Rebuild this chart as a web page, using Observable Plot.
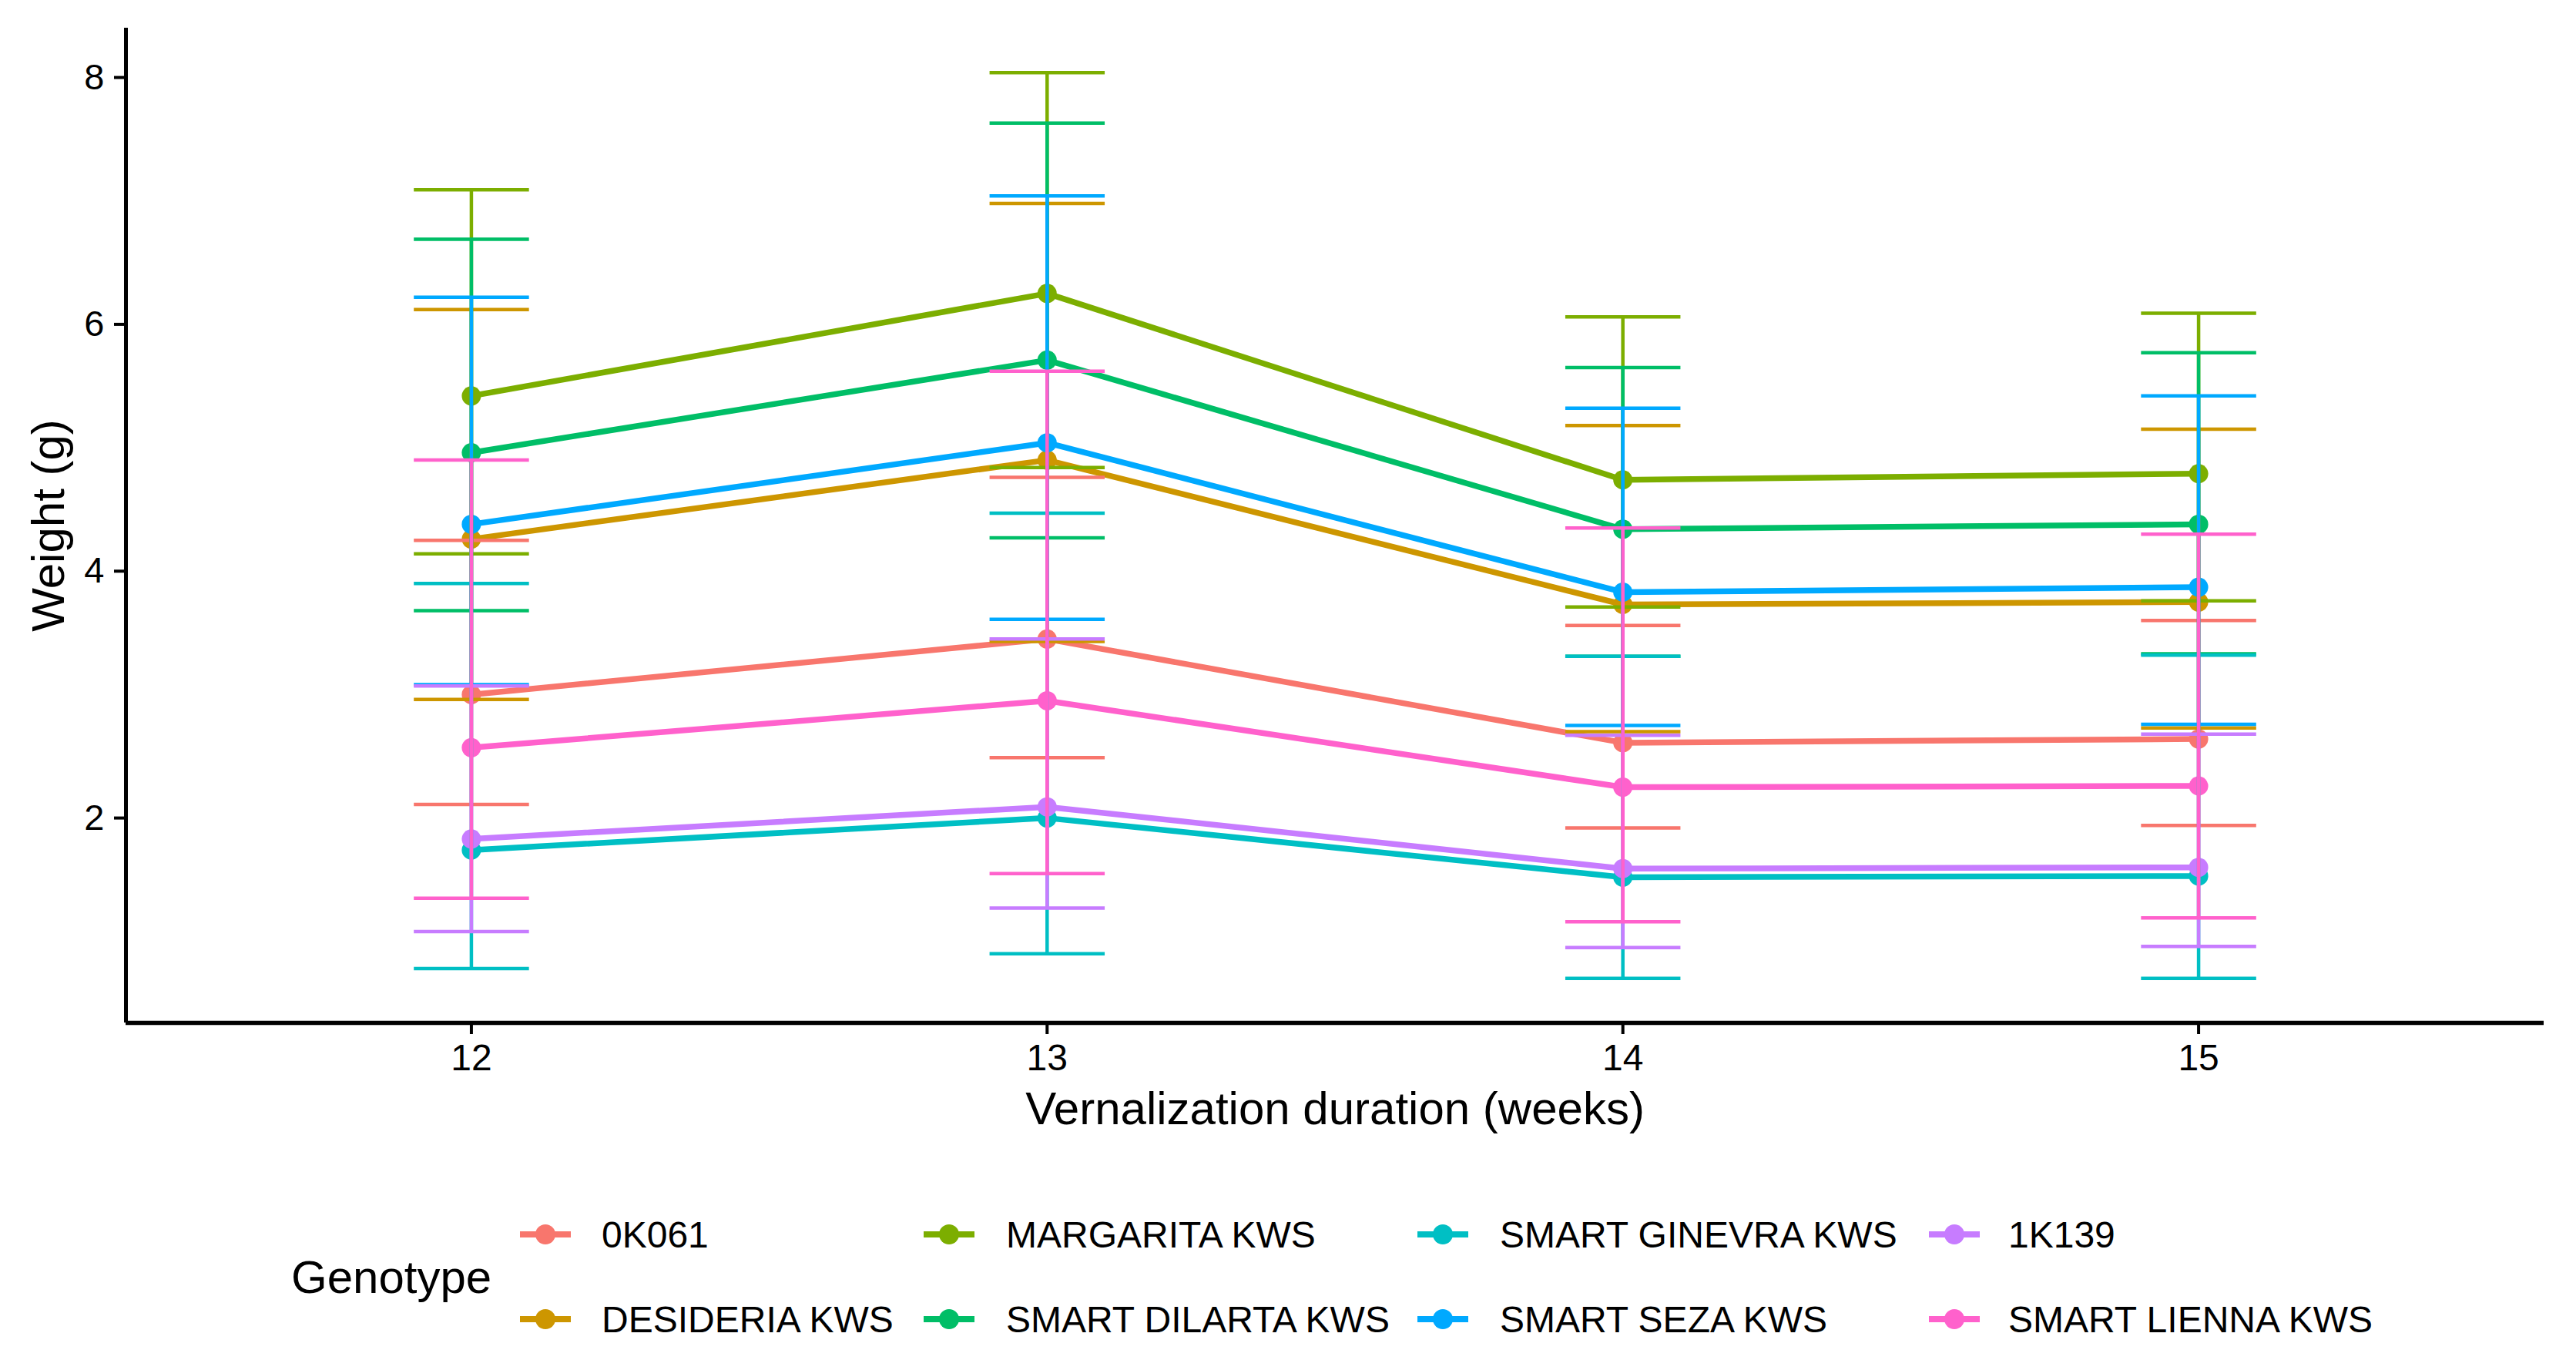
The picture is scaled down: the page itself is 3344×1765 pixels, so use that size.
<!DOCTYPE html>
<html>
<head>
<meta charset="utf-8">
<script src="https://cdn.jsdelivr.net/npm/d3@7"></script>
<script src="https://cdn.jsdelivr.net/npm/@observablehq/plot@0.6"></script>
<style>
  body { margin: 0; background: #fff; font-family: "Liberation Sans", Arial, sans-serif; }
  #wrap { width: 3344px; height: 1765px; position: relative; overflow: hidden; }
</style>
</head>
<body>
<div id="wrap"></div>
<script>
// ---- data ----
const genotypes = ["0K061", "DESIDERIA KWS", "MARGARITA KWS", "SMART DILARTA KWS",
                   "SMART GINEVRA KWS", "SMART SEZA KWS", "1K139", "SMART LIENNA KWS"];
const colors = ["#F8766D", "#CD9600", "#7CAE00", "#00BE67", "#00BFC4", "#00A9FF", "#C77CFF", "#FF61CC"];
const weeks = [12, 13, 14, 15];
const yTicks = [2, 4, 6, 8];

// mean weight per genotype (rows follow genotypes), columns follow weeks
const meanWeight = [
  [3.00, 3.45, 2.61, 2.64],
  [4.26, 4.90, 3.73, 3.75],
  [5.42, 6.25, 4.74, 4.79],
  [4.96, 5.71, 4.34, 4.38],
  [1.74, 2.00, 1.52, 1.53],
  [4.38, 5.04, 3.83, 3.87],
  [1.83, 2.09, 1.59, 1.60],
  [2.57, 2.95, 2.25, 2.26]
];
const upperWeight = [
  [4.25, 4.76, 3.56, 3.60],
  [6.12, 6.98, 5.18, 5.15],
  [7.09, 8.04, 6.06, 6.09],
  [6.69, 7.63, 5.65, 5.77],
  [3.90, 4.47, 3.31, 3.32],
  [6.22, 7.04, 5.32, 5.42],
  [3.07, 3.45, 2.67, 2.68],
  [4.90, 5.62, 4.35, 4.30]
];
const lowerWeight = [
  [2.11, 2.49, 1.92, 1.94],
  [2.96, 3.43, 2.70, 2.73],
  [4.14, 4.84, 3.71, 3.76],
  [3.68, 4.27, 3.31, 3.33],
  [0.78, 0.90, 0.70, 0.70],
  [3.08, 3.61, 2.75, 2.76],
  [1.08, 1.27, 0.95, 0.96],
  [1.35, 1.55, 1.16, 1.19]
];
const capHalfWidth = 0.1;
const xDomain = [11.4, 15.6];
const yDomain = [0.34, 8.40];

// ---- tables ----
const rows = [];
genotypes.forEach((g, i) => weeks.forEach((w, j) => rows.push({
  genotype: g, week: w, mean: meanWeight[i][j], lo: lowerWeight[i][j], hi: upperWeight[i][j]
})));
// errorbar polylines, like ggplot's: top cap, vertical, bottom cap
const errPath = [];
rows.forEach(r => {
  const id = r.genotype + "|" + r.week;
  [[r.week - capHalfWidth, r.hi], [r.week + capHalfWidth, r.hi], [r.week, r.hi],
   [r.week, r.lo], [r.week - capHalfWidth, r.lo], [r.week + capHalfWidth, r.lo]]
    .forEach(([x, y]) => errPath.push({id, genotype: r.genotype, x, y}));
});

const W = 3344, H = 1480;
const FRAME_BOTTOM = 1327;
const plot = Plot.plot({
  width: W, height: H,
  marginLeft: 163, marginRight: 42, marginTop: 36, marginBottom: H - FRAME_BOTTOM,
  style: {fontFamily: '"Liberation Sans", Arial, sans-serif', color: "black", background: "white", overflow: "visible"},
  x: {domain: xDomain},
  y: {domain: yDomain},
  color: {domain: genotypes, range: colors},
  marks: [
    Plot.line(rows, {x: "week", y: "mean", z: "genotype", stroke: "genotype", strokeWidth: 7.5}),
    Plot.dot(rows, {x: "week", y: "mean", fill: "genotype", r: 12.5, stroke: "none"}),
    Plot.line(errPath, {x: "x", y: "y", z: "id", stroke: "genotype", strokeWidth: 4.5, strokeLinejoin: "miter", strokeLinecap: "butt"}),
    Plot.ruleX([xDomain[0]], {stroke: "black", strokeWidth: 5}),
    Plot.ruleY([yDomain[0]], {stroke: "black", strokeWidth: 5.5}),
    Plot.axisX({ticks: weeks, tickSize: 15, tickPadding: 12, fontSize: 48, label: null, strokeWidth: 4, tickFormat: d => String(d)}),
    Plot.axisY({ticks: yTicks, tickSize: 15, tickPadding: 13, fontSize: 47, label: null, strokeWidth: 4}),
    Plot.text(["Vernalization duration (weeks)"], {frameAnchor: "bottom", lineAnchor: "middle", textAnchor: "middle", dy: 112, fontSize: 60, fill: "black"}),
    Plot.text(["Weight (g)"], {frameAnchor: "left", lineAnchor: "middle", textAnchor: "middle", dx: -100, rotate: -90, fontSize: 60, fill: "black"})
  ]
});
plot.style.display = "block";
document.getElementById("wrap").appendChild(plot);

// ---- legend ----
const LH = 1765 - H;
const leg = d3.select("#wrap").append("svg")
  .attr("width", W).attr("height", LH)
  .style("display", "block")
  .style("font-family", '"Liberation Sans", Arial, sans-serif');
const colKeyX = [708, 1232, 1873, 2537];
const colTextX = [781, 1306, 1947, 2607];
const rowY = [122, 232];
leg.append("text").attr("x", 378).attr("y", 177 + 21).attr("font-size", 60).attr("fill", "black").text("Genotype");
genotypes.forEach((g, i) => {
  const c = Math.floor(i / 2), cx = colKeyX[c], cy = rowY[i % 2];
  leg.append("line").attr("x1", cx - 33).attr("x2", cx + 33).attr("y1", cy).attr("y2", cy)
    .attr("stroke", colors[i]).attr("stroke-width", 8);
  leg.append("circle").attr("cx", cx).attr("cy", cy).attr("r", 13).attr("fill", colors[i]);
  leg.append("text").attr("x", colTextX[c]).attr("y", cy + 17).attr("font-size", 48).attr("fill", "black").text(g);
});
</script>
</body>
</html>
